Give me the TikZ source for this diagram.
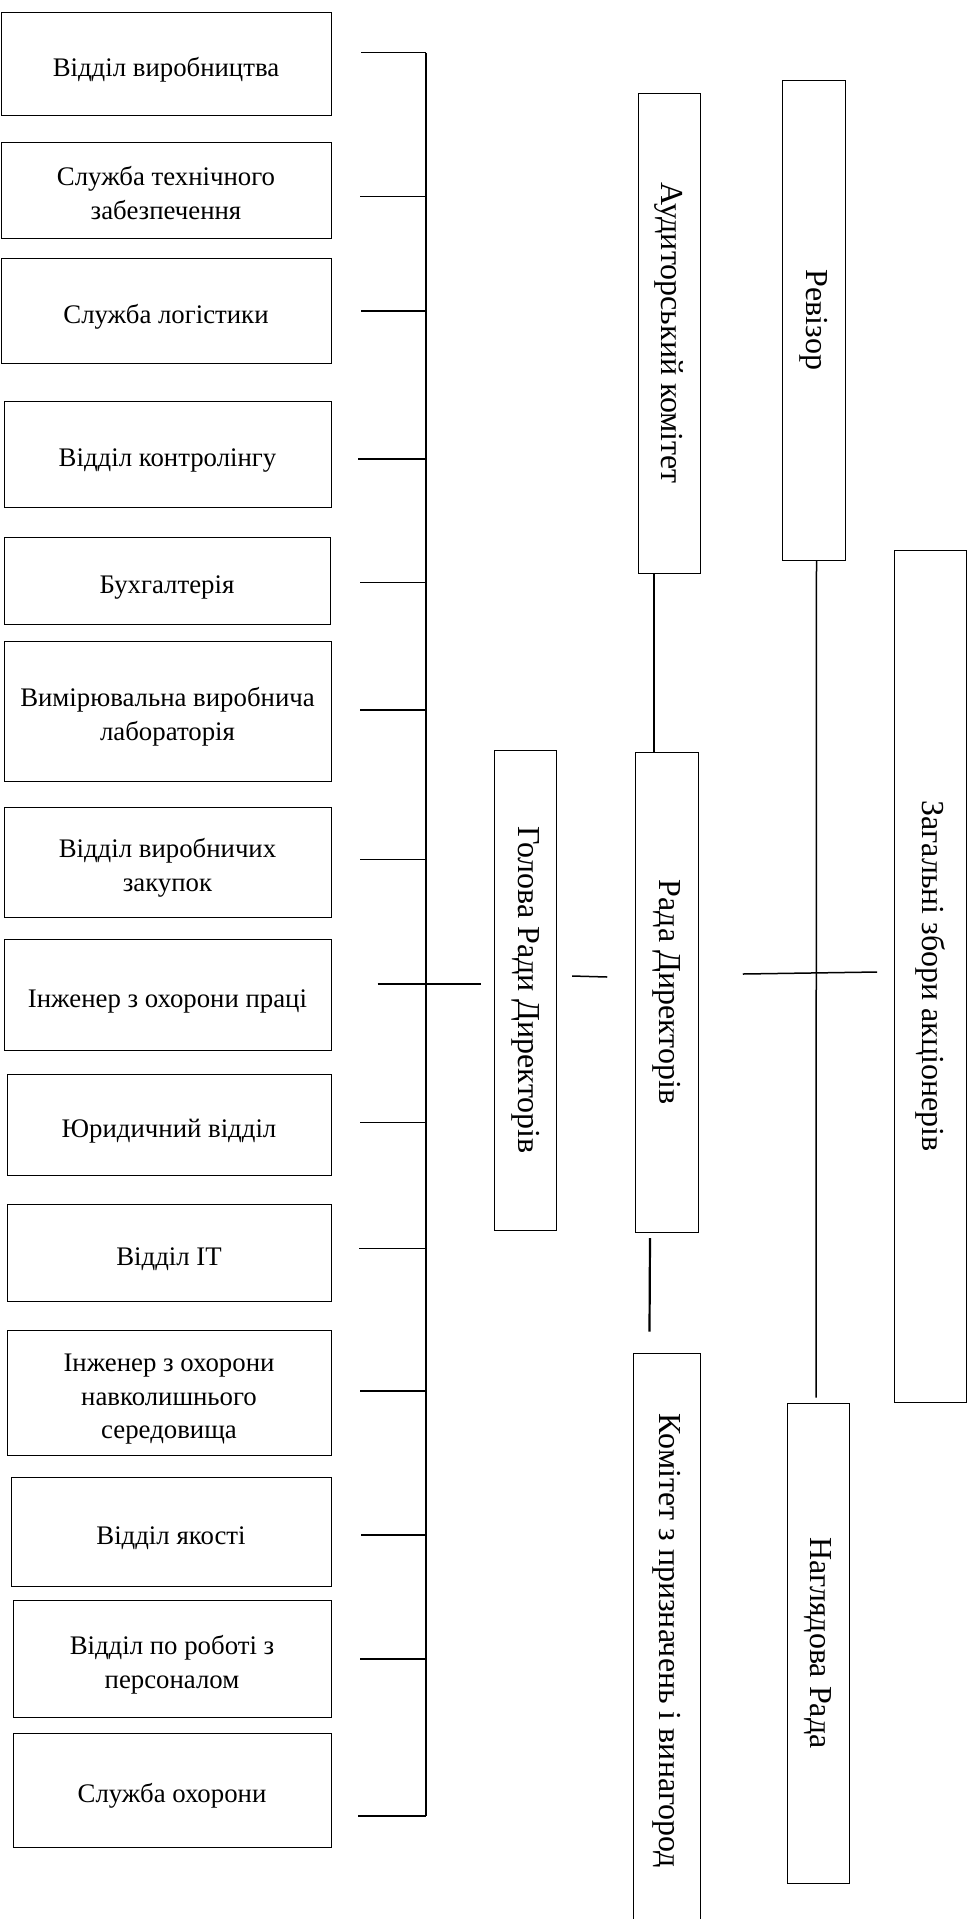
\documentclass[tikz,border=0pt]{standalone}
\usepackage{fontspec}
\setmainfont{Liberation Serif}
\usepackage{graphicx}
\usetikzlibrary{calc}
% text set a little low in its box, as the drawing does
\newcommand{\lowtext}[1]{\raisebox{-3pt}[\height][\depth]{\begin{tabular}{@{}c@{}}#1\end{tabular}}}

\begin{document}
\begin{tikzpicture}[x=0.5pt,y=-0.5pt,
  dept/.style={draw,line width=0.5pt,inner sep=0pt,font=\fontsize{13.4}{16.8}\selectfont},
  body/.style={draw,line width=0.5pt,inner sep=0pt,font=\fontsize{16}{19}\selectfont},
  link/.style={line width=0.75pt}]
\clip (0,0) rectangle (974,1919);
% departments on the left
\node[dept,minimum width=165pt,minimum height=51.5pt] (vyrob) at (166,63.5) {\lowtext{Відділ виробництва}};
\node[dept,minimum width=165pt,minimum height=48pt] (tekh) at (166,190) {\lowtext{Служба технічного\\забезпечення}};
\node[dept,minimum width=165pt,minimum height=52.5pt] (logist) at (166,310.5) {\lowtext{Служба логістики}};
\node[dept,minimum width=163.5pt,minimum height=53pt] (kontr) at (167.5,454) {\lowtext{Відділ контролінгу}};
\node[dept,minimum width=163pt,minimum height=43.5pt] (bukh) at (167,580.5) {\lowtext{Бухгалтерія}};
\node[dept,minimum width=163.5pt,minimum height=70pt] (lab) at (167.5,711) {\lowtext{Вимірювальна виробнича\\лабораторія}};
\node[dept,minimum width=163.5pt,minimum height=55pt] (zakup) at (167.5,862) {\lowtext{Відділ виробничих\\закупок}};
\node[dept,minimum width=163.5pt,minimum height=55.5pt] (okhpr) at (167.5,994.5) {\lowtext{Інженер з охорони праці}};
\node[dept,minimum width=162pt,minimum height=50.5pt] (yur) at (169,1124.5) {\lowtext{Юридичний відділ}};
\node[dept,minimum width=162pt,minimum height=48.5pt] (it) at (169,1252.5) {\lowtext{Відділ IT}};
\node[dept,minimum width=162pt,minimum height=62.5pt] (eko) at (169,1392.5) {\lowtext{Інженер з охорони\\навколишнього\\середовища}};
\node[dept,minimum width=160pt,minimum height=54.5pt] (yakist) at (171,1531.5) {\lowtext{Відділ якості}};
\node[dept,minimum width=159pt,minimum height=58.5pt] (pers) at (172,1658.5) {\lowtext{Відділ по роботі з\\персоналом}};
\node[dept,minimum width=159pt,minimum height=57pt] (okhor) at (172,1790) {\lowtext{Служба охорони}};
% governing bodies, text turned
\node[body,minimum width=31pt,minimum height=240pt] (holova) at (525.6,990) {\rotatebox{-90}{Голова Ради Директорів}};
\node[body,minimum width=31.25pt,minimum height=240pt] (rada) at (667,992) {\rotatebox{-90}{Рада Директорів}};
\node[body,minimum width=31pt,minimum height=240pt] (audyt) at (669,333) {\rotatebox{-90}{Аудиторський комітет}};
\node[body,minimum width=31.5pt,minimum height=240pt] (reviz) at (813.5,320) {\rotatebox{-90}{Ревізор}};
\node[body,minimum width=36pt,minimum height=426pt] (zbory) at (930.6,976) {\rotatebox{-90}{Загальні збори акціонерів}};
\node[body,minimum width=33.5pt,minimum height=288pt] (komitet) at (666.5,1641) {\rotatebox{-90}{Комітет з призначень і винагород}};
\node[body,minimum width=31pt,minimum height=240pt] (nahl) at (818,1643) {\rotatebox{-90}{Наглядова Рада}};
% bus line
\coordinate (bt) at (426,52.7);
\coordinate (bb) at (426,1816);
\draw[link] (bt) -- (bb);
\path[link] (361,52.7) edge (bt)
(360,196.3) edge (360,196.3 -| bt)
(361,311) edge (361,311 -| bt)
(358,459) edge (358,459 -| bt)
(360,582.3) edge (360,582.3 -| bt)
(360,710) edge (360,710 -| bt)
(360,859.3) edge (360,859.3 -| bt)
(360,1122.3) edge (360,1122.3 -| bt)
(359,1248.3) edge (359,1248.3 -| bt)
(360,1391) edge (360,1391 -| bt)
(361,1535) edge (361,1535 -| bt)
(360,1659) edge (360,1659 -| bt)
(358,1816) edge (bb)
;
% links between bodies
\path[link] ([xshift=-58.25pt,yshift=3pt]holova.west) edge ([xshift=-6.75pt,yshift=3pt]holova.west)
([xshift=7.5pt,yshift=7pt]holova.east) edge ([xshift=-14pt,yshift=7.5pt]rada.west)
([xshift=-7.5pt]audyt.south) edge ([xshift=-6.5pt]rada.north)
([xshift=1.5pt]reviz.south) edge ([xshift=-1pt,yshift=2.5pt]nahl.north)
([xshift=22pt,yshift=9pt]rada.east) edge ([xshift=-8.5pt,yshift=2pt]zbory.west)
;
\draw[line width=1.1pt] ([xshift=-8.5pt,yshift=-2.75pt]rada.south) -- ([xshift=-8.5pt,yshift=10.5pt]komitet.north);
\end{tikzpicture}
\end{document}
